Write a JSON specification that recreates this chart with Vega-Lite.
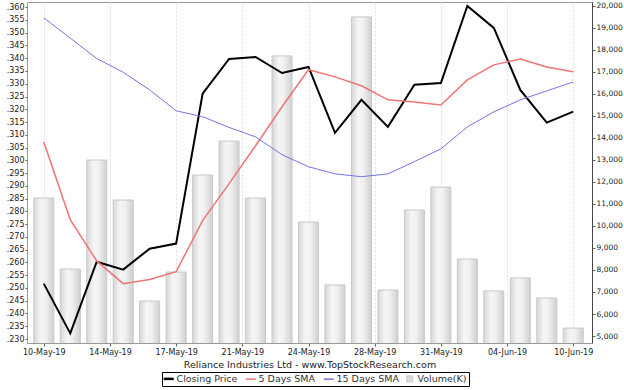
{
  "$schema": "https://vega.github.io/schema/vega-lite/v6.json",
  "width": 565,
  "height": 341,
  "autosize": {"type": "none"},
  "padding": {"left": 27, "top": 2, "right": 32, "bottom": 47},
  "background": "white",
  "config": {
    "font": "DejaVu Sans",
    "view": {"stroke": "#999999", "strokeWidth": 1},
    "axis": {"labelFontSize": 8, "labelColor": "#222222", "grid": true, "gridColor": "#dddddd", "gridDash": [2, 2], "domain": false, "tickColor": "#666666", "tickSize": 3}
  },
  "data": {
    "values": [
      {"date": "10-May-19", "Closing Price": 0.2517, "5 Days SMA": 0.3072, "15 Days SMA": 0.3558, "volume": 11270},
      {"date": "13-May-19", "Closing Price": 0.2322, "5 Days SMA": 0.2768, "15 Days SMA": 0.3479, "volume": 8045},
      {"date": "14-May-19", "Closing Price": 0.2603, "5 Days SMA": 0.2606, "15 Days SMA": 0.3399, "volume": 13000},
      {"date": "15-May-19", "Closing Price": 0.2572, "5 Days SMA": 0.2517, "15 Days SMA": 0.3345, "volume": 11180},
      {"date": "16-May-19", "Closing Price": 0.2654, "5 Days SMA": 0.2533, "15 Days SMA": 0.3276, "volume": 6590},
      {"date": "17-May-19", "Closing Price": 0.2674, "5 Days SMA": 0.2564, "15 Days SMA": 0.3194, "volume": 7910},
      {"date": "20-May-19", "Closing Price": 0.3261, "5 Days SMA": 0.2764, "15 Days SMA": 0.3171, "volume": 12320},
      {"date": "21-May-19", "Closing Price": 0.3397, "5 Days SMA": 0.2909, "15 Days SMA": 0.3129, "volume": 13860},
      {"date": "22-May-19", "Closing Price": 0.3405, "5 Days SMA": 0.3057, "15 Days SMA": 0.3092, "volume": 11270},
      {"date": "23-May-19", "Closing Price": 0.3342, "5 Days SMA": 0.3210, "15 Days SMA": 0.3022, "volume": 17730},
      {"date": "24-May-19", "Closing Price": 0.3366, "5 Days SMA": 0.3355, "15 Days SMA": 0.2975, "volume": 10180},
      {"date": "27-May-19", "Closing Price": 0.3108, "5 Days SMA": 0.3327, "15 Days SMA": 0.2947, "volume": 7320},
      {"date": "28-May-19", "Closing Price": 0.3237, "5 Days SMA": 0.3292, "15 Days SMA": 0.2936, "volume": 19500},
      {"date": "29-May-19", "Closing Price": 0.3131, "5 Days SMA": 0.3237, "15 Days SMA": 0.2947, "volume": 7090},
      {"date": "30-May-19", "Closing Price": 0.3296, "5 Days SMA": 0.3229, "15 Days SMA": 0.2995, "volume": 10730},
      {"date": "31-May-19", "Closing Price": 0.3303, "5 Days SMA": 0.3217, "15 Days SMA": 0.3045, "volume": 11770},
      {"date": "03-Jun-19", "Closing Price": 0.3605, "5 Days SMA": 0.3315, "15 Days SMA": 0.3131, "volume": 8500},
      {"date": "04-Jun-19", "Closing Price": 0.3519, "5 Days SMA": 0.3374, "15 Days SMA": 0.3190, "volume": 7050},
      {"date": "06-Jun-19", "Closing Price": 0.3276, "5 Days SMA": 0.3397, "15 Days SMA": 0.3237, "volume": 7640},
      {"date": "07-Jun-19", "Closing Price": 0.3148, "5 Days SMA": 0.3366, "15 Days SMA": 0.3272, "volume": 6730},
      {"date": "10-Jun-19", "Closing Price": 0.3191, "5 Days SMA": 0.3347, "15 Days SMA": 0.3307, "volume": 5360}
    ]
  },
  "transform": [{"window": [{"op": "row_number", "as": "n"}]}],
  "encoding": {
    "x": {
      "field": "n",
      "type": "quantitative",
      "scale": {"domain": [0.555, 21.52], "nice": false, "zero": false},
      "axis": {
        "values": [1, 3.5, 6, 8.5, 11, 13.5, 16, 18.5, 21],
        "labelExpr": "datum.value == 1 ? '10-May-19' : datum.value == 3.5 ? '14-May-19' : datum.value == 6 ? '17-May-19' : datum.value == 8.5 ? '21-May-19' : datum.value == 11 ? '24-May-19' : datum.value == 13.5 ? '28-May-19' : datum.value == 16 ? '31-May-19' : datum.value == 18.5 ? '04-Jun-19' : '10-Jun-19'",
        "title": "Reliance Industries Ltd - www.TopStockResearch.com",
        "titleFontSize": 9.5,
        "titleFontWeight": "normal",
        "titleColor": "#222222",
        "titlePadding": 3,
        "labelPadding": 2
      }
    }
  },
  "layer": [
    {
      "mark": {
        "type": "bar",
        "width": 20,
        "clip": true,
        "strokeWidth": 1,
        "fill": {
          "x1": 0, "y1": 0, "x2": 1, "y2": 0,
          "gradient": "linear",
          "stops": [
            {"offset": 0, "color": "#d6d6d6"},
            {"offset": 0.35, "color": "#f6f6f6"},
            {"offset": 0.6, "color": "#f0f0f0"},
            {"offset": 1, "color": "#cfcfcf"}
          ]
        }
      },
      "encoding": {
        "y": {
          "field": "volume",
          "type": "quantitative",
          "scale": {"domain": [4682, 20180], "nice": false, "zero": false},
          "axis": {"orient": "right", "values": [5000, 6000, 7000, 8000, 9000, 10000, 11000, 12000, 13000, 14000, 15000, 16000, 17000, 18000, 19000, 20000], "format": ",.0f", "title": null, "grid": false, "domain": true, "domainColor": "#444444", "labelPadding": 1, "labelFontSize": 7.5}
        },
        "stroke": {"datum": "Volume(K)"}
      }
    },
    {
      "transform": [{"fold": ["Closing Price", "5 Days SMA", "15 Days SMA"], "as": ["key", "value"]}],
      "mark": {"type": "line"},
      "encoding": {
        "y": {
          "field": "value",
          "type": "quantitative",
          "scale": {"domain": [0.22844, 0.36203], "nice": false, "zero": false},
          "axis": {"orient": "left", "values": [0.23, 0.235, 0.24, 0.245, 0.25, 0.255, 0.26, 0.265, 0.27, 0.275, 0.28, 0.285, 0.29, 0.295, 0.3, 0.305, 0.31, 0.315, 0.32, 0.325, 0.33, 0.335, 0.34, 0.345, 0.35, 0.355, 0.36], "labelExpr": "replace(format(datum.value, '.3f'), '0.', '.')", "title": null, "labelPadding": 1, "tickSize": 2}
        },
        "stroke": {
          "field": "key",
          "type": "nominal",
          "scale": {"domain": ["Closing Price", "5 Days SMA", "15 Days SMA", "Volume(K)"], "range": ["#000000", "#f07474", "#7474e4", "#c8c8c8"]},
          "legend": {
            "orient": "none",
            "legendX": 135,
            "legendY": 370,
            "direction": "horizontal",
            "title": null,
            "strokeColor": "#000000",
            "padding": 2,
            "labelFontSize": 9.5,
            "labelColor": "#333333",
            "symbolSize": 100,
            "labelOffset": 3,
            "columnPadding": 4,
            "encode": {
              "symbols": {
                "update": {
                  "shape": {"signal": "datum.label == 'Volume(K)' ? 'square' : 'stroke'"},
                  "fill": {"signal": "datum.label == 'Volume(K)' ? '#dddddd' : 'transparent'"},
                  "strokeWidth": {"signal": "datum.label == 'Closing Price' ? 2.5 : datum.label == 'Volume(K)' ? 1 : 1.5"},
                  "size": {"signal": "datum.label == 'Volume(K)' ? 36 : 100"}
                }
              }
            }
          }
        },
        "strokeWidth": {
          "field": "key",
          "type": "nominal",
          "scale": {"domain": ["Closing Price", "5 Days SMA", "15 Days SMA"], "range": [2, 1, 1]},
          "legend": null
        }
      }
    }
  ],
  "resolve": {"scale": {"y": "independent"}}
}
